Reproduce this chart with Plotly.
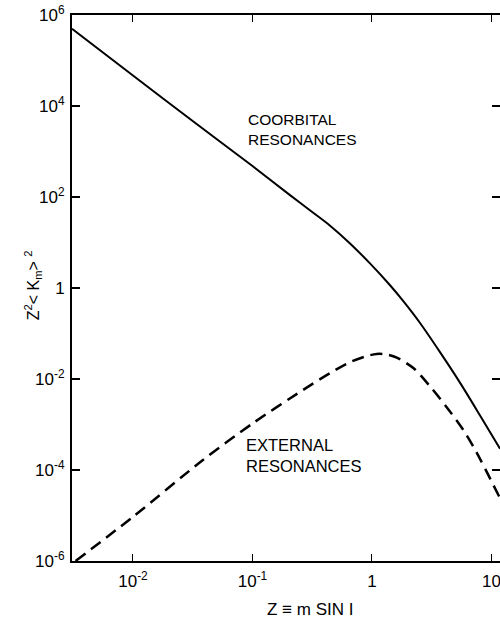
import plotly.graph_objects as go

# ---- data ----
coorbital_z = [0.00309, 0.01, 0.0316, 0.1, 0.206, 0.316, 0.446, 0.655, 0.962, 1.416, 1.828, 2.523, 3.707, 5.445, 8.017, 11.78]
coorbital_val = [5.0e5, 4.68e4, 4.68e3, 479, 110, 46.8, 23.4, 9.55, 3.47, 1.148, 0.513, 0.170, 0.0389, 0.00832, 0.00158, 2.95e-4]

external_z = [0.00331, 0.01, 0.0385, 0.101, 0.265, 0.446, 0.655, 0.891, 1.096, 1.318, 1.611, 2.218, 3.055, 4.217, 5.808, 7.516, 11.78]
external_val = [1.0e-6, 9.33e-6, 1.66e-4, 1.07e-3, 5.75e-3, 0.0135, 0.0234, 0.0316, 0.0355, 0.0347, 0.0295, 0.0174, 0.00692, 0.0024, 7.59e-4, 2.40e-4, 2.40e-5]

x_tickvals = [0.01, 0.1, 1, 10]
x_ticktext = ["10<sup>-2</sup>", "10<sup>-1</sup>", "1", "10"]
y_tickvals = [1e-6, 1e-4, 1e-2, 1, 1e2, 1e4, 1e6]
y_ticktext = ["10<sup>-6</sup>", "10<sup>-4</sup>", "10<sup>-2</sup>", "1",
              "10<sup>2</sup>", "10<sup>4</sup>", "10<sup>6</sup>"]

coorbital_label = ["COORBITAL", "RESONANCES"]
external_label = ["EXTERNAL", "RESONANCES"]

FONT = "Liberation Sans, Arial, sans-serif"

fig = go.Figure()
fig.add_trace(go.Scatter(x=coorbital_z, y=coorbital_val, mode="lines",
                         line=dict(color="black", width=2, shape="spline", smoothing=0.8),
                         showlegend=False))
fig.add_trace(go.Scatter(x=external_z, y=external_val, mode="lines",
                         line=dict(color="black", width=2.5, dash="12px,7px", shape="spline", smoothing=0.8),
                         showlegend=False))
# invisible trace to carry the right-hand tick axis
fig.add_trace(go.Scatter(x=[1], y=[1], yaxis="y2", mode="markers",
                         marker=dict(opacity=0), showlegend=False, hoverinfo="skip"))

annotations = [
    dict(x=0.4089, y=0.7894, xref="paper", yref="paper", xanchor="left", yanchor="middle",
         text="<br>".join(coorbital_label), showarrow=False, borderpad=0, align="left",
         font=dict(size=15.5, family=FONT)),
    dict(x=0.4042, y=0.1941, xref="paper", yref="paper", xanchor="left", yanchor="middle",
         text="<br>".join(external_label), showarrow=False, borderpad=0, align="left",
         font=dict(size=16.5, family=FONT)),
    dict(x=-0.091, y=0.505, xref="paper", yref="paper", xanchor="center", yanchor="middle",
         text="Z<sup>2</sup>< K<sub>m</sub>> <sup>2</sup>", textangle=-90, showarrow=False,
         font=dict(size=16, family=FONT)),
    dict(x=0.556, y=-0.088, xref="paper", yref="paper", xanchor="center", yanchor="middle",
         text="Z ≡ m SIN I", showarrow=False, font=dict(size=17, family=FONT)),
]

fig.update_layout(
    width=500, height=621,
    margin=dict(l=72, r=0, t=15, b=60, autoexpand=False),
    paper_bgcolor="white", plot_bgcolor="white",
    font=dict(family=FONT, color="black", size=16),
    xaxis=dict(type="log", range=[-2.51, 1.071], showgrid=False, zeroline=False,
               showline=True, linecolor="black", linewidth=2, mirror="ticks",
               ticks="inside", ticklen=7, tickwidth=1, tickcolor="black",
               tickvals=x_tickvals, ticktext=x_ticktext, tickfont=dict(size=17),
               automargin=False, ticklabelstandoff=4, ticklabeloverflow="allow"),
    yaxis=dict(type="log", range=[-6, 6], showgrid=False, zeroline=False,
               showline=True, linecolor="black", linewidth=2, mirror=False,
               ticks="inside", ticklen=8, tickwidth=1.5, tickcolor="black",
               tickvals=y_tickvals, ticktext=y_ticktext, tickfont=dict(size=17),
               ticklabelstandoff=2, automargin=False),
    yaxis2=dict(type="log", range=[-6, 6], overlaying="y", side="right", anchor="x",
                showgrid=False, zeroline=False, showline=False, automargin=False,
                ticks="inside", ticklen=8, tickwidth=1.5, tickcolor="black",
                tickvals=y_tickvals, showticklabels=False),
    annotations=annotations,
)

fig.write_html("out.html", config={"displayModeBar": False},
               post_script="document.body.style.margin='0';")
